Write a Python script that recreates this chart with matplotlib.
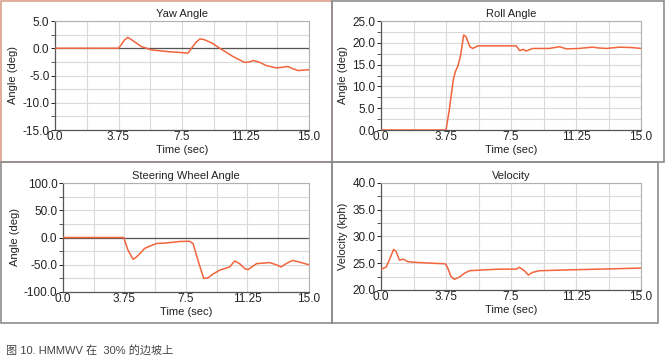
import matplotlib
matplotlib.use("Agg")
import matplotlib.pyplot as plt
from matplotlib.patches import Rectangle
import numpy as np

plt.rcParams['font.family'] = ['Liberation Sans', 'Noto Sans CJK SC', 'DejaVu Sans']

# ---- data ----
yaw_t = [0.0, 3.75, 3.9, 4.1, 4.3, 4.6, 5.1, 5.7, 6.6, 7.5, 7.86, 8.06, 8.3, 8.55, 8.8, 9.3, 9.73, 10.5, 11.2, 11.5, 11.7, 12.1, 12.5, 13.07, 13.4, 13.75, 14.0, 14.35, 14.7, 15.0]
yaw_v = [0.0, 0.0, 0.6, 1.5, 2.0, 1.4, 0.3, -0.3, -0.6, -0.8, -0.9, 0.0, 1.0, 1.7, 1.6, 0.9, 0.0, -1.5, -2.6, -2.5, -2.25, -2.6, -3.2, -3.6, -3.5, -3.35, -3.7, -4.1, -4.0, -3.95]

roll_t = [0.0, 3.75, 3.94, 4.17, 4.29, 4.42, 4.58, 4.77, 4.9, 5.13, 5.29, 5.58, 6.06, 7.8, 8.0, 8.2, 8.37, 8.75, 9.7, 10.3, 10.7, 11.4, 12.2, 12.6, 13.0, 13.75, 14.5, 15.0]
roll_v = [0.0, 0.0, 4.6, 11.5, 13.4, 14.5, 16.8, 21.8, 21.4, 19.1, 18.7, 19.3, 19.3, 19.3, 18.2, 18.5, 18.1, 18.7, 18.7, 19.1, 18.6, 18.7, 19.0, 18.8, 18.7, 19.0, 18.9, 18.7]

steer_t = [0.0, 3.7, 3.96, 4.27, 4.47, 4.67, 4.98, 5.28, 5.7, 6.3, 7.1, 7.7, 7.93, 8.23, 8.58, 8.84, 9.15, 9.55, 10.16, 10.47, 10.77, 11.08, 11.28, 11.8, 12.2, 12.6, 13.0, 13.3, 13.6, 14.0, 14.4, 15.0]
steer_v = [0.0, 0.0, -23, -40, -36, -30, -20, -16, -11, -10, -7.4, -6.8, -11, -42, -75, -74, -67, -60, -54, -43, -48, -57, -59, -48, -47, -46, -50, -54, -48, -42, -45, -50]

vel_t = [0.0, 0.29, 0.48, 0.73, 0.87, 1.06, 1.29, 1.54, 1.83, 2.98, 3.71, 3.85, 4.04, 4.23, 4.52, 4.8, 5.1, 5.87, 6.83, 7.8, 7.98, 8.27, 8.5, 8.75, 9.13, 10.7, 12.6, 15.0]
vel_v = [23.9, 24.25, 25.6, 27.6, 27.2, 25.6, 25.75, 25.3, 25.2, 25.0, 24.9, 24.1, 22.5, 22.0, 22.4, 23.1, 23.6, 23.75, 23.9, 23.9, 24.25, 23.6, 22.8, 23.3, 23.6, 23.75, 23.9, 24.1]

titles = ['Yaw Angle', 'Roll Angle', 'Steering Wheel Angle', 'Velocity']
ylabels = ['Angle (deg)', 'Angle (deg)', 'Angle (deg)', 'Velocity (kph)']
x_ticks = [0.0, 3.75, 7.5, 11.25, 15.0]
x_ticklabels = ['0.0', '3.75', '7.5', '11.25', '15.0']
caption = '图 10. HMMWV 在  30% 的边坡上'

W, H = 667, 362
fig = plt.figure(figsize=(W / 100, H / 100), dpi=100)

def px(x0, y0, x1, y1):
    return [x0 / W, 1 - y1 / H, (x1 - x0) / W, (y1 - y0) / H]

# panel frames
frames = [((1, 1, 332, 162), '#d9a08a'), ((332, 1, 664, 162), '#8c8c8c'),
          ((1, 162, 332, 323), '#8c8c8c'), ((332, 162, 658, 323), '#8c8c8c')]
for (x0, y0, x1, y1), c in frames:
    fig.patches.append(Rectangle((x0 / W, 1 - y1 / H), (x1 - x0) / W, (y1 - y0) / H,
                                 transform=fig.transFigure, fill=False, edgecolor=c, lw=1.2))

boxes = [px(55, 21, 309, 130), px(381, 21, 641, 130), px(63, 183, 309, 292), px(381, 183, 641, 290)]
ylims = [(-15, 5), (0, 25), (-100, 100), (20, 40)]
ymaj = [5, 5, 50, 5]
ymin = [2.5, 2.5, 25, 2.5]
series = [(yaw_t, yaw_v), (roll_t, roll_v), (steer_t, steer_v), (vel_t, vel_v)]

line_color = '#f2643c'
for i in range(4):
    ax = fig.add_axes(boxes[i])
    lo, hi = ylims[i]
    ax.set_xlim(0, 15)
    ax.set_ylim(lo, hi)
    ax.set_xticks(x_ticks)
    ax.set_xticklabels(x_ticklabels)
    ax.set_xticks(np.arange(0, 15.01, 1.875), minor=True)
    ax.set_yticks(np.arange(lo, hi + 0.01, ymaj[i]))
    ax.set_yticklabels(['%.1f' % v for v in np.arange(lo, hi + 0.01, ymaj[i])])
    ax.set_yticks(np.arange(lo, hi + 0.01, ymin[i]), minor=True)
    ax.grid(True, which='both', color='#d9d9d9', lw=0.8)
    ax.set_axisbelow(True)
    if lo < 0 < hi:
        ax.axhline(0, color='#555555', lw=0.9, zorder=2)
    t, v = series[i]
    ax.plot(t, v, color=line_color, lw=1.1, zorder=3)
    ax.set_title(titles[i], fontsize=8, pad=3, color='#222222')
    ax.set_xlabel('Time (sec)', fontsize=8, labelpad=1, color='#222222')
    ax.set_ylabel(ylabels[i], fontsize=8, labelpad=3, color='#222222')
    ax.tick_params(axis='both', which='major', labelsize=8.5, length=3, width=0.7,
                   colors='#222222', pad=1)
    ax.tick_params(axis='x', which='both', length=0)
    ax.tick_params(axis='y', which='minor', length=3, width=0.7, color='#555555')
    for s in ['left', 'bottom']:
        ax.spines[s].set_color('#555555')
        ax.spines[s].set_linewidth(0.9)
    for s in ['top', 'right']:
        ax.spines[s].set_color('#b0b0b0')
        ax.spines[s].set_linewidth(0.8)

fig.text(6 / W, 1 - 350 / H, caption, fontsize=8, color='#444444', va='center', ha='left')

fig.savefig('out.png', dpi=100)
